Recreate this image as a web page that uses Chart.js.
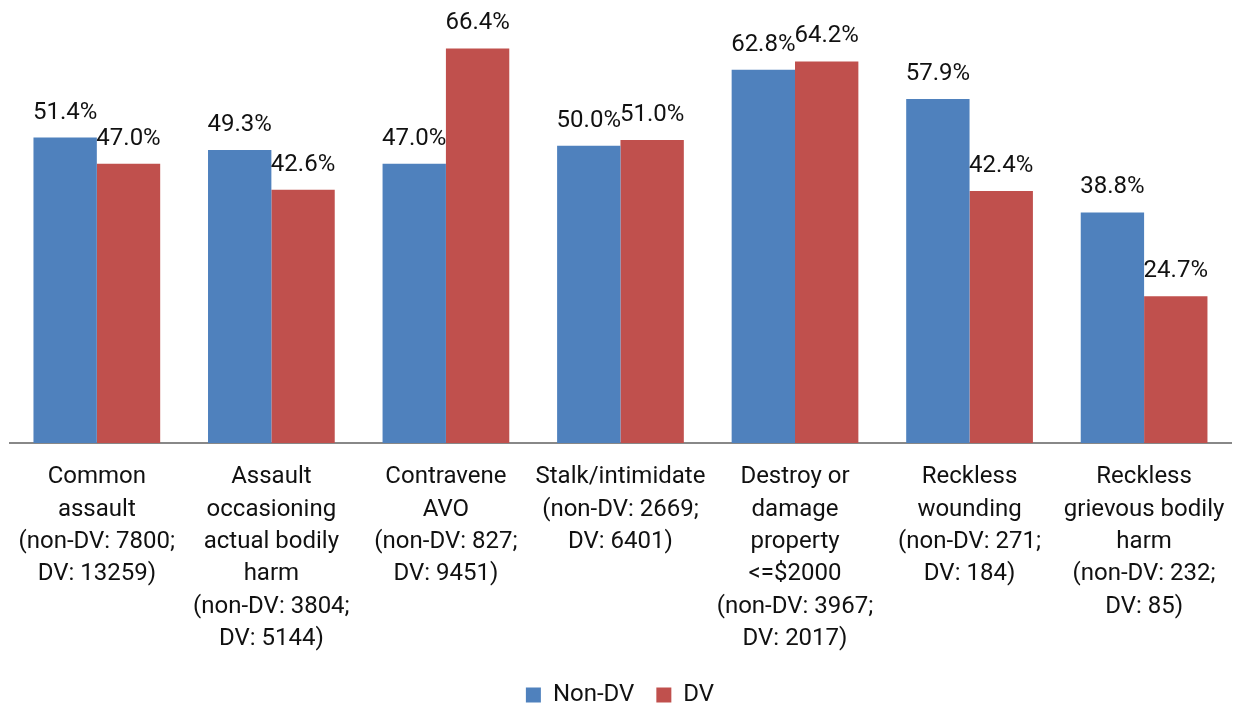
<!DOCTYPE html>
<html>
<head>
<meta charset="utf-8">
<script src="https://cdn.jsdelivr.net/npm/chart.js@4.4.1/dist/chart.umd.min.js"></script>
<style>
html,body{margin:0;padding:0;background:#fff;}
#wrap{width:1243px;height:707px;}
</style>
</head>
<body>
<div id="wrap"><canvas id="c" width="1243" height="707"></canvas></div>
<script>
const categories = [
  ["Common", "assault", "(non-DV: 7800;", "DV: 13259)"],
  ["Assault", "occasioning", "actual bodily", "harm", "(non-DV: 3804;", "DV: 5144)"],
  ["Contravene", "AVO", "(non-DV: 827;", "DV: 9451)"],
  ["Stalk/intimidate", "(non-DV: 2669;", "DV: 6401)"],
  ["Destroy or", "damage", "property", "<=$2000", "(non-DV: 3967;", "DV: 2017)"],
  ["Reckless", "wounding", "(non-DV: 271;", "DV: 184)"],
  ["Reckless", "grievous bodily", "harm", "(non-DV: 232;", "DV: 85)"]
];
const nonDV = [51.4, 49.3, 47.0, 50.0, 62.8, 57.9, 38.8];
const dv = [47.0, 42.6, 66.4, 51.0, 64.2, 42.4, 24.7];
const seriesNames = ["Non-DV", "DV"];

const labelPlugin = {
  id: 'barLabels',
  afterDatasetsDraw(chart) {
    const ctx = chart.ctx;
    ctx.save();
    ctx.font = '24px Roboto';
    ctx.fillStyle = '#111';
    ctx.textAlign = 'center';
    ctx.textBaseline = 'alphabetic';
    chart.data.datasets.forEach((ds, di) => {
      const meta = chart.getDatasetMeta(di);
      meta.data.forEach((bar, i) => {
        ctx.fillText(ds.data[i].toFixed(1) + '%', bar.x, bar.y - 19);
      });
    });
    ctx.restore();
  }
};

function draw() {
  Chart.defaults.font.family = 'Roboto';
  Chart.defaults.color = '#111';
  new Chart(document.getElementById('c'), {
    type: 'bar',
    data: {
      labels: categories,
      datasets: [
        { label: seriesNames[0], data: nonDV, backgroundColor: '#4F81BD', borderWidth: 0 },
        { label: seriesNames[1], data: dv, backgroundColor: '#C0504D', borderWidth: 0 }
      ]
    },
    options: {
      responsive: false,
      animation: false,
      layout: { padding: { top: 27, left: 8, right: 11, bottom: -10 } },
      datasets: { bar: { categoryPercentage: 0.726, barPercentage: 1.0 } },
      scales: {
        x: {
          grid: { display: false, drawTicks: false },
          border: { display: true, color: '#888', width: 2 },
          ticks: { autoSkip: false, maxRotation: 0, minRotation: 0, padding: 18,
                   font: { size: 24, lineHeight: 1.35 }, color: '#111' },
          afterFit(scale) { scale.height = 218; }
        },
        y: { display: false, min: 0, max: 70 }
      },
      plugins: {
        legend: {
          position: 'bottom',
          labels: { boxWidth: 15, boxHeight: 15, font: { size: 24 }, color: '#111', padding: 22 }
        },
        tooltip: { enabled: false }
      }
    },
    plugins: [labelPlugin]
  });
}
document.fonts.load('24px Roboto').then(draw, draw);
</script>
</body>
</html>
